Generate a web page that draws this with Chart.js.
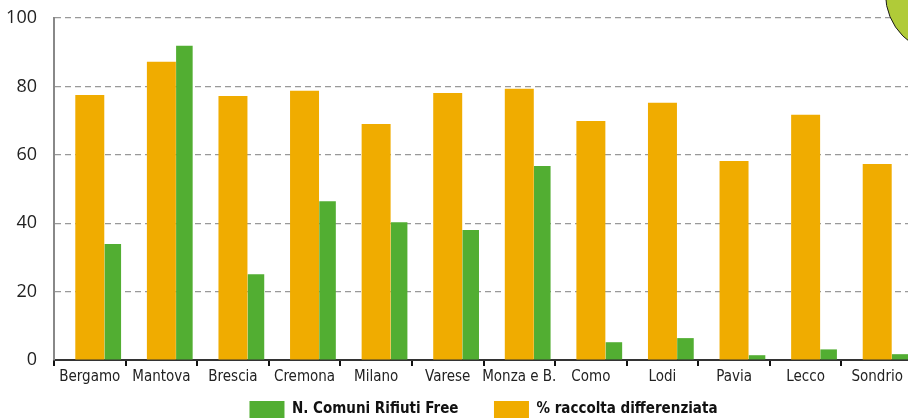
<!DOCTYPE html>
<html>
<head>
<meta charset="utf-8">
<script src="https://cdn.jsdelivr.net/npm/chart.js@4"></script>
<style>
  html, body { margin: 0; padding: 0; background: #fff; overflow: hidden; }
  #wrap { position: relative; width: 908px; height: 419px; overflow: hidden; }
  #box { position: absolute; left: 0; top: 0; width: 916px; height: 428px; }
  #bubble { position: absolute; left: 885px; top: -66px; width: 120px; height: 120px; border-radius: 50%;
            background: #b0cb38; border: 1.5px solid #1a1a1a; box-sizing: border-box; }
</style>
</head>
<body>
<div id="wrap">
  <div id="box"><canvas id="mainChart"></canvas></div>
  <div id="bubble"></div>
</div>
<script>
var provinces = ["Bergamo","Mantova","Brescia","Cremona","Milano","Varese","Monza e B.","Como","Lodi","Pavia","Lecco","Sondrio"];
var raccolta = [77.5, 87.2, 77.2, 78.7, 69.0, 78.1, 79.3, 69.9, 75.2, 58.2, 71.7, 57.3];
var comuniFree = [33.9, 91.9, 25.1, 46.4, 40.3, 38.0, 56.7, 5.2, 6.4, 1.4, 3.1, 1.7];
var yTicks = [0, 20, 40, 60, 80, 100];
var spacer = provinces.map(function () { return null; });

var narrow = '"Liberation Sans Narrow", "DejaVu Sans Condensed", "Arial Narrow", sans-serif';

var main = document.getElementById('mainChart');
var chart = new Chart(main, {
  type: 'bar',
  data: {
    labels: provinces,
    datasets: [{
      label: '',
      data: spacer,
      backgroundColor: 'rgba(0,0,0,0)'
    }, {
      label: '% raccolta differenziata',
      data: raccolta,
      backgroundColor: '#f0ac00',
      barPercentage: 1.26
    }, {
      label: 'N. Comuni Rifiuti Free',
      data: comuniFree,
      backgroundColor: '#52ae32',
      barPercentage: 0.72
    }]
  },
  options: {
    responsive: true,
    maintainAspectRatio: false,
    animation: false,
    categoryPercentage: 0.964,
    layout: { padding: { left: 0, right: 3, top: 18, bottom: 0 } },
    plugins: {
      tooltip: { enabled: false },
      legend: {
        position: 'bottom',
        fullSize: false,
        labels: {
          boxWidth: 35,
          boxHeight: 17,
          padding: 12,
          color: '#111',
          font: { family: narrow, size: 15, weight: 'bold' },
          generateLabels: function (c) {
            var items = Chart.defaults.plugins.legend.labels.generateLabels(c);
            items.forEach(function (it) {
              // wider gap after the first legend entry
              if (it.datasetIndex === 2) it.text = it.text + '     ';
            });
            return items;
          },
          filter: function (item) { return item.text !== ''; },
          sort: function (a, b) { return b.datasetIndex - a.datasetIndex; }
        }
      }
    },
    scales: {
      x: {
        offset: true,
        border: { display: true, color: '#333', width: 2 },
        grid: { offset: true, drawOnChartArea: false, drawTicks: true, tickLength: 6, color: '#111', lineWidth: 2 },
        ticks: { color: '#222', font: { family: narrow, size: 15 }, padding: 2, maxRotation: 0, autoSkip: false },
        afterFit: function (scale) {
          scale.height = 29;
          scale.paddingLeft = 0;
          scale.paddingRight = 0;
        }
      },
      y: {
        min: 0,
        max: 100,
        afterBuildTicks: function (scale) {
          scale.ticks = yTicks.map(function (v) { return { value: v }; });
        },
        border: { display: true, color: '#888', width: 2, dash: [6, 4] },
        grid: { color: '#999', lineWidth: 1.2, drawTicks: false },
        ticks: { color: '#222', font: { family: '"Open Sans", sans-serif', size: 18 }, padding: 17 },
        afterFit: function (scale) {
          scale.width = 54;
          scale.paddingTop = 0;
          scale.paddingBottom = 0;
        }
      }
    }
  }
});
</script>
</body>
</html>
